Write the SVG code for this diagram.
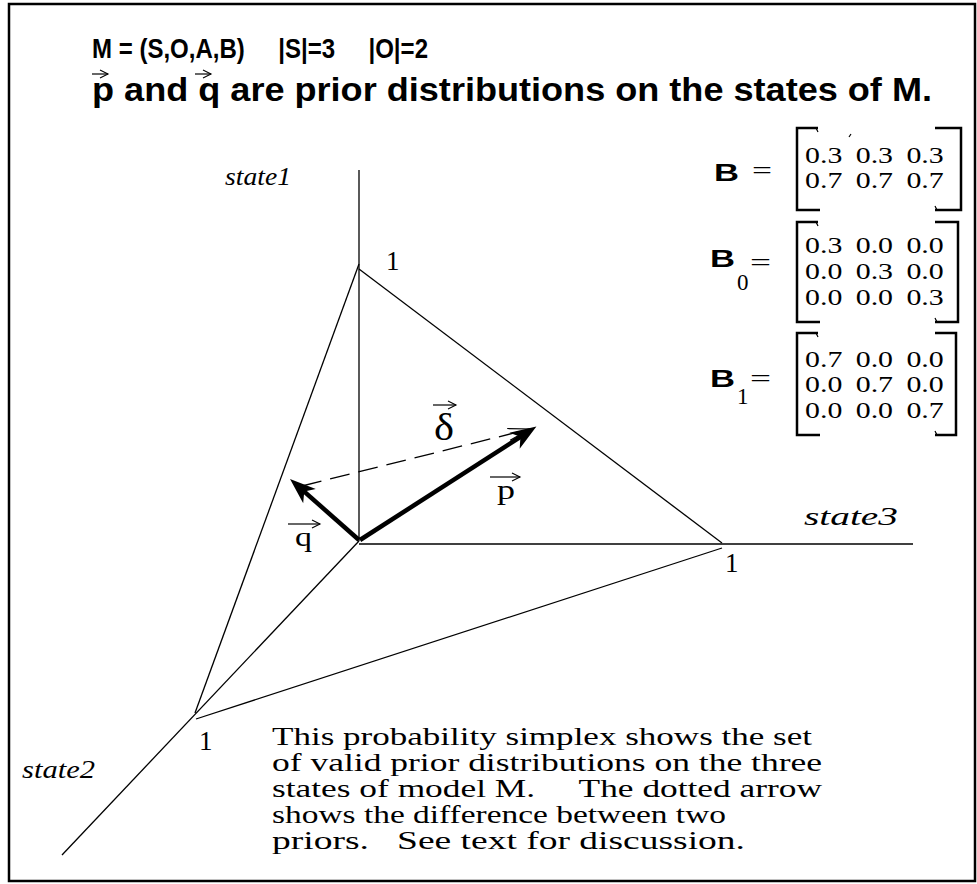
<svg xmlns="http://www.w3.org/2000/svg" width="977" height="884" viewBox="0 0 977 884">
<style>
.ax{stroke:#000;stroke-width:1.3;fill:none}
.vec{stroke:#000;stroke-width:4.5;fill:none}
.br{stroke:#000;stroke-width:2.5;fill:none}
.acc{stroke:#000;stroke-width:1.2;fill:none}
.ti{font-family:"Liberation Sans",Arial,sans-serif;font-weight:bold;fill:#000}
.tm{font-family:"Liberation Serif","Times New Roman",serif;fill:#000}
.mx{font-family:"Liberation Serif","Times New Roman",serif;fill:#000;font-size:23px}
.it{font-family:"Liberation Serif","Times New Roman",serif;font-style:italic;fill:#000}
</style>
<defs>
<marker id="head" viewBox="-28 -12 30 24" refX="-10" refY="0" markerWidth="30" markerHeight="24" markerUnits="userSpaceOnUse" orient="auto">
<path d="M0,0 L-26,-9.5 L-19,0 L-26,9.5 Z" fill="#000"/>
</marker>
<marker id="thin" viewBox="-26 -10 28 20" refX="0" refY="0" markerWidth="28" markerHeight="20" markerUnits="userSpaceOnUse" orient="auto">
<path d="M-22,-6 L0,0 L-22,6" fill="none" stroke="#000" stroke-width="1.2"/>
</marker>
<marker id="acch" viewBox="-10 -6 12 12" refX="0" refY="0" markerWidth="12" markerHeight="12" markerUnits="userSpaceOnUse" orient="auto">
<path d="M-8,-4 L0,0 L-8,4" fill="none" stroke="#000" stroke-width="1.1"/>
</marker>
</defs>
<rect x="9" y="4" width="966" height="877" fill="#fff" stroke="#000" stroke-width="2.5"/>

<g id="title">
<text class="ti" x="92" y="58" font-size="27" textLength="336" lengthAdjust="spacingAndGlyphs" xml:space="preserve">M = (S,O,A,B)     |S|=3     |O|=2</text>
<text class="ti" x="92" y="101" font-size="34" textLength="840" lengthAdjust="spacingAndGlyphs">p and q are prior distributions on the states of M.</text>
<line class="acc" x1="92" y1="74" x2="108" y2="74" marker-end="url(#acch)"/>
<line class="acc" x1="195" y1="74" x2="211" y2="74" marker-end="url(#acch)"/>
</g>

<g id="axes">
<line class="ax" x1="359" y1="170" x2="359" y2="541"/>
<line class="ax" x1="359" y1="544" x2="913" y2="544"/>
<line class="ax" x1="359" y1="541" x2="62" y2="855"/>
</g>

<g id="simplex">
<line class="ax" x1="359" y1="264" x2="195" y2="713"/>
<line class="ax" x1="359" y1="269" x2="722" y2="543"/>
<line class="ax" x1="722" y1="548" x2="196" y2="719"/>
</g>

<g id="connectors">
<line class="ax" x1="302" y1="486" x2="530" y2="429" stroke-dasharray="20,9" marker-end="url(#thin)"/>
<line class="vec" x1="360" y1="540" x2="528" y2="432" marker-end="url(#head)"/>
<line class="vec" x1="359" y1="540" x2="297.5" y2="485.6" marker-end="url(#head)"/>
</g>

<g id="labels">
<text class="it" x="225" y="185" font-size="26" textLength="66" lengthAdjust="spacingAndGlyphs">state1</text>
<text class="it" x="804" y="525" font-size="26" textLength="94" lengthAdjust="spacingAndGlyphs">state3</text>
<text class="it" x="22" y="778" font-size="26" textLength="73" lengthAdjust="spacingAndGlyphs">state2</text>
<text class="tm" x="386" y="270" font-size="27">1</text>
<text class="tm" x="725" y="572" font-size="27">1</text>
<text class="tm" x="199" y="750" font-size="27">1</text>
</g>

<g id="vec-labels">
<text class="tm" x="434" y="440" font-size="38" textLength="20" lengthAdjust="spacingAndGlyphs">δ</text>
<line class="acc" x1="433" y1="405" x2="456" y2="405" marker-end="url(#acch)"/>
<text class="tm" x="497" y="499" font-size="27" textLength="18" lengthAdjust="spacingAndGlyphs">p</text>
<line class="acc" x1="490" y1="477" x2="520" y2="477" marker-end="url(#acch)"/>
<text class="tm" x="295" y="546" font-size="27" textLength="17" lengthAdjust="spacingAndGlyphs">q</text>
<line class="acc" x1="288" y1="524" x2="320" y2="524" marker-end="url(#acch)"/>
</g>

<g id="matrix-B">
<text class="ti" x="714" y="181" font-size="24" textLength="25" lengthAdjust="spacingAndGlyphs">B</text>
<text class="tm" x="752" y="178" font-size="24" textLength="20" lengthAdjust="spacingAndGlyphs">=</text>
<path class="br" d="M818,128 L797,128 L797,210 L820,210"/>
<path class="br" d="M935,128 L961,128 L961,210 L935,210"/>
<path class="acc" d="M816,128 l2,4 M937,210 l-2,-4 M849,137 l2,-3"/>
<g transform="translate(805,0) scale(1.3,1)">
<text class="mx" y="163"><tspan x="0">0.3</tspan><tspan x="39">0.3</tspan><tspan x="78">0.3</tspan></text>
<text class="mx" y="188"><tspan x="0">0.7</tspan><tspan x="39">0.7</tspan><tspan x="78">0.7</tspan></text>
</g>
</g>

<g id="matrix-B0">
<text class="ti" x="710" y="267" font-size="24" textLength="25" lengthAdjust="spacingAndGlyphs">B</text>
<text class="tm" x="737" y="290" font-size="23">0</text>
<text class="tm" x="750" y="270" font-size="24" textLength="21" lengthAdjust="spacingAndGlyphs">=</text>
<path class="br" d="M818,222 L797,222 L797,322 L820,322"/>
<path class="br" d="M935,222 L958,222 L958,322 L935,322"/>
<path class="acc" d="M816,222 l2,4 M937,322 l-2,-4"/>
<g transform="translate(805,0) scale(1.3,1)">
<text class="mx" y="253"><tspan x="0">0.3</tspan><tspan x="39">0.0</tspan><tspan x="78">0.0</tspan></text>
<text class="mx" y="279"><tspan x="0">0.0</tspan><tspan x="39">0.3</tspan><tspan x="78">0.0</tspan></text>
<text class="mx" y="305"><tspan x="0">0.0</tspan><tspan x="39">0.0</tspan><tspan x="78">0.3</tspan></text>
</g>
</g>

<g id="matrix-B1">
<text class="ti" x="710" y="387" font-size="24" textLength="25" lengthAdjust="spacingAndGlyphs">B</text>
<text class="tm" x="737" y="404" font-size="23">1</text>
<text class="tm" x="750" y="386" font-size="24" textLength="21" lengthAdjust="spacingAndGlyphs">=</text>
<path class="br" d="M818,333 L797,333 L797,435 L820,435"/>
<path class="br" d="M935,333 L956,333 L956,435 L935,435"/>
<path class="acc" d="M816,333 l2,4 M937,435 l-2,-4"/>
<g transform="translate(805,0) scale(1.3,1)">
<text class="mx" y="367"><tspan x="0">0.7</tspan><tspan x="39">0.0</tspan><tspan x="78">0.0</tspan></text>
<text class="mx" y="392"><tspan x="0">0.0</tspan><tspan x="39">0.7</tspan><tspan x="78">0.0</tspan></text>
<text class="mx" y="418"><tspan x="0">0.0</tspan><tspan x="39">0.0</tspan><tspan x="78">0.7</tspan></text>
</g>
</g>

<g id="caption">
<text class="tm" x="272" y="745" font-size="26" textLength="540" lengthAdjust="spacingAndGlyphs">This probability simplex shows the set</text>
<text class="tm" x="272" y="771" font-size="26" textLength="550" lengthAdjust="spacingAndGlyphs">of valid prior distributions on the three</text>
<text class="tm" x="272" y="797" font-size="26" textLength="550" lengthAdjust="spacingAndGlyphs" xml:space="preserve">states of model M.     The dotted arrow</text>
<text class="tm" x="272" y="823" font-size="26" textLength="454" lengthAdjust="spacingAndGlyphs">shows the difference between two</text>
<text class="tm" x="272" y="849" font-size="26" textLength="473" lengthAdjust="spacingAndGlyphs" xml:space="preserve">priors.   See text for discussion.</text>
</g>
</svg>
